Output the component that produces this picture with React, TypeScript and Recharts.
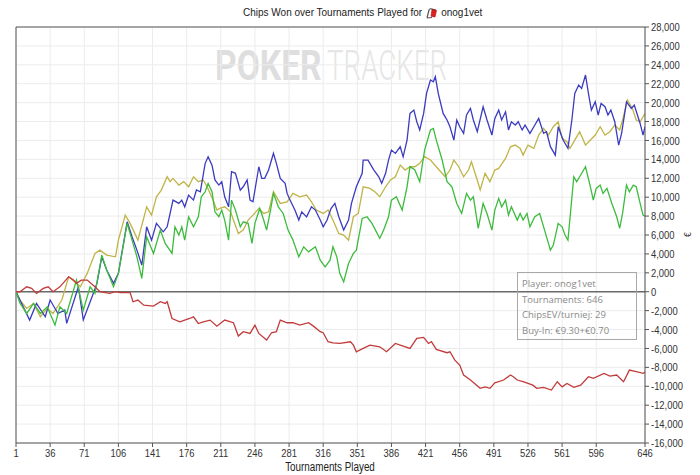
import React from 'react';
import { LineChart, Line, XAxis, YAxis, CartesianGrid, ReferenceLine } from 'recharts';

type P = [number, number];

const X_TICKS = [1, 36, 71, 106, 141, 176, 211, 246, 281, 316, 351, 386, 421, 456, 491, 526, 561, 596, 646];
const Y_TICKS = [-16000, -14000, -12000, -10000, -8000, -6000, -4000, -2000, 0, 2000, 4000, 6000, 8000, 10000, 12000, 14000, 16000, 18000, 20000, 22000, 24000, 26000, 28000];

const TITLE = 'Chips Won over Tournaments Played for';
const PLAYER = 'onog1vet';
const X_LABEL = 'Tournaments Played';
const INFO_LINES = ['Player: onog1vet', 'Tournaments: 646', 'ChipsEV/turniej: 29', 'Buy-In: €9.30+€0.70'];

// Chips won (blue)
const BLUE_PTS: P[] = [
  [1, 0], [15, -3000], [22, -1240], [31, -2650], [36, -880], [44, -2300], [51, -1940], [53, -3350], [65, 520], [70, -2990],
  [79, -540], [84, 880], [89, 3690], [94, 2300], [101, 880], [106, 1940], [115, 7400], [120, 5810], [125, 4400], [130, 2810],
  [135, 6870], [140, 5460], [145, 7230], [152, 6340], [156, 6870], [162, 9690], [168, 9340], [171, 9690], [174, 8980], [178, 10220],
  [183, 9690], [186, 10760], [190, 10570], [195, 13580], [198, 14280], [202, 13390], [205, 11820], [209, 11280], [212, 11630], [215, 10040],
  [219, 8980], [222, 12690], [226, 12520], [231, 10750], [234, 11100], [238, 11820], [241, 9700], [244, 9510], [250, 13220], [253, 11990],
  [256, 11990], [260, 12870], [265, 14630], [268, 13580], [272, 11990], [277, 11460], [279, 10400], [282, 9700], [287, 8640], [291, 7580],
  [294, 8450], [299, 7920], [304, 8980], [308, 8640], [313, 7580], [316, 6870], [320, 7580], [324, 8800], [328, 9340], [332, 7930],
  [337, 6520], [342, 7580], [345, 9340], [350, 11100], [356, 12520], [357, 13920], [362, 13920], [368, 12870], [373, 12160], [376, 11460],
  [380, 12520], [383, 13920], [386, 14980], [390, 14630], [395, 15330], [398, 14270], [402, 16040], [405, 18860], [409, 19210], [412, 17980],
  [415, 17110], [419, 18860], [422, 20980], [426, 22390], [429, 22210], [431, 22740], [434, 20980], [439, 18860], [443, 18160], [446, 17450],
  [450, 16040], [453, 18160], [456, 17450], [460, 16750], [463, 18690], [467, 19390], [470, 18160], [474, 16930], [480, 19560], [484, 18160],
  [489, 16570], [492, 18330], [496, 19210], [499, 18160], [503, 19030], [506, 17110], [509, 17980], [513, 17630], [516, 17980], [520, 17110],
  [523, 17630], [528, 16750], [532, 17450], [537, 18330], [542, 16750], [545, 16920], [549, 15340], [554, 14450], [557, 17450], [562, 16040],
  [567, 15160], [571, 18160], [574, 20980], [578, 21860], [581, 21510], [585, 22920], [588, 20980], [591, 19210], [595, 20090], [598, 18690],
  [601, 19920], [605, 19570], [608, 18690], [611, 19210], [615, 17980], [619, 15510], [622, 16750], [627, 20090], [632, 19390], [635, 19740],
  [641, 17800], [644, 16570], [646, 17450],
];

// green
const GREEN_PTS: P[] = [
  [1, 0], [5, -1200], [12, -2300], [19, -1240], [26, -2300], [33, -1590], [41, -3530], [46, -1590], [53, -2300], [63, 1230],
  [70, -1940], [77, 520], [82, -180], [89, 3870], [94, 2300], [101, 520], [106, 1940], [115, 7230], [120, 5460], [125, 3690],
  [130, 1410], [135, 5810], [142, 4050], [149, 6520], [154, 5110], [161, 4050], [164, 6870], [168, 5990], [171, 6870], [174, 5460],
  [178, 7930], [183, 6870], [188, 7930], [191, 10040], [195, 10570], [198, 11460], [202, 10570], [205, 8450], [209, 7930], [212, 8640],
  [215, 7580], [219, 5460], [222, 9690], [226, 8640], [231, 6870], [234, 7400], [239, 7230], [243, 5110], [246, 7230], [251, 8810],
  [255, 7580], [258, 6520], [262, 8640], [265, 10400], [270, 8980], [275, 8280], [280, 6520], [285, 5460], [291, 3690], [296, 4750],
  [301, 4220], [308, 4750], [313, 3340], [318, 2630], [323, 3340], [326, 4750], [330, 3690], [333, 1940], [337, 1050], [342, 2990],
  [347, 4050], [350, 4400], [356, 7750], [361, 7930], [366, 7230], [374, 5640], [378, 6520], [383, 7930], [386, 9690], [391, 10040],
  [397, 8640], [402, 11100], [405, 13220], [410, 12870], [415, 11640], [420, 14980], [426, 17110], [429, 17280], [432, 16040], [438, 13930],
  [443, 11640], [448, 11100], [453, 9340], [458, 8280], [463, 10400], [467, 9690], [470, 10040], [475, 6700], [480, 9340], [484, 8280],
  [489, 6520], [492, 8640], [496, 9870], [499, 8980], [503, 9690], [506, 8110], [509, 8980], [515, 7580], [518, 8280], [521, 7580],
  [525, 8280], [528, 6870], [533, 7930], [538, 8280], [544, 6170], [549, 4400], [552, 4930], [557, 7230], [561, 6870], [564, 5990],
  [567, 5460], [573, 12160], [576, 11640], [579, 12160], [585, 13220], [590, 11100], [593, 9690], [596, 10930], [600, 11280], [603, 10400],
  [607, 10930], [612, 9340], [617, 7930], [620, 6700], [623, 8280], [627, 11280], [630, 10570], [634, 11280], [637, 11100], [641, 9340],
  [644, 8110], [646, 8000],
];

// yellow
const YELLOW_PTS: P[] = [
  [1, 0], [5, -880], [12, -1770], [19, -1240], [26, -2650], [33, -1770], [39, -2300], [48, -880], [55, 1580], [59, 1230],
  [67, 520], [74, 1940], [82, 4050], [87, 4400], [94, 3870], [103, 3690], [106, 5460], [113, 8100], [118, 7230], [126, 5460],
  [135, 8980], [140, 8100], [145, 10040], [150, 10750], [156, 12160], [159, 11640], [162, 11990], [168, 11280], [173, 11640], [178, 11100],
  [183, 12160], [188, 11640], [193, 11820], [197, 11100], [200, 10400], [203, 9690], [207, 8640], [210, 8810], [215, 8980], [221, 8450],
  [224, 7580], [229, 6170], [234, 6520], [239, 7580], [244, 8100], [250, 8810], [255, 8280], [260, 8450], [265, 10570], [272, 9340],
  [279, 9510], [285, 10400], [292, 10040], [299, 10220], [304, 9510], [309, 8640], [316, 8280], [321, 8640], [326, 7580], [332, 6170],
  [337, 5990], [342, 5460], [347, 7930], [352, 8280], [357, 11100], [364, 10930], [369, 10570], [374, 10040], [380, 11100], [385, 11820],
  [390, 12160], [395, 13400], [400, 12870], [405, 13220], [410, 13220], [415, 13580], [420, 14280], [426, 13930], [432, 13220], [441, 12160],
  [446, 12870], [450, 13930], [455, 13220], [460, 12160], [465, 12870], [468, 13740], [474, 11820], [477, 10760], [482, 12520], [487, 11640],
  [492, 12870], [496, 13040], [503, 14100], [508, 15330], [513, 15510], [518, 15160], [521, 14450], [526, 15510], [532, 15160], [537, 16570],
  [542, 17280], [547, 16570], [552, 17450], [557, 17980], [561, 16220], [566, 15870], [569, 15160], [574, 16040], [579, 16920], [585, 15510],
  [590, 16040], [595, 16570], [600, 17450], [605, 16570], [610, 16920], [615, 17630], [620, 17110], [623, 18160], [628, 20270], [633, 19390],
  [637, 18160], [641, 17980], [646, 18860],
];

// red
const RED_PTS: P[] = [
  [1, 0], [5, 0], [12, 520], [17, 350], [22, -180], [29, 350], [34, 520], [39, 0], [46, 520], [55, 1580],
  [60, 1230], [63, 880], [68, 1230], [74, 1230], [82, 520], [87, 0], [97, -180], [103, 0], [108, -100], [118, -100],
  [121, -1060], [126, -880], [132, -1420], [142, -1520], [149, -1060], [154, -1240], [156, -1060], [161, -2830], [169, -3180], [174, -3000],
  [179, -2830], [183, -2650], [188, -3360], [193, -3180], [200, -3000], [207, -3640], [215, -3000], [224, -3280], [229, -4690], [234, -4230],
  [241, -4410], [246, -3530], [250, -4410], [258, -5110], [263, -4340], [268, -4230], [272, -3000], [279, -3280], [285, -3280], [292, -3530],
  [301, -3280], [306, -3640], [313, -4230], [316, -4340], [321, -5290], [326, -5400], [333, -5470], [344, -5290], [347, -5650], [350, -6350],
  [357, -6000], [364, -5650], [374, -5830], [381, -6350], [390, -5470], [398, -5760], [405, -6000], [412, -4940], [419, -4830], [424, -5470],
  [427, -5290], [432, -6100], [443, -6450], [446, -6350], [451, -7230], [456, -7760], [460, -8810], [467, -9340], [477, -10220], [482, -10060],
  [487, -10220], [492, -9630], [501, -9340], [508, -8810], [511, -8990], [515, -9340], [521, -9520], [531, -9880], [535, -10220], [542, -10120],
  [550, -10400], [556, -9520], [561, -10060], [566, -9700], [573, -10120], [580, -9880], [588, -8990], [593, -9160], [604, -8640], [610, -8920],
  [617, -8810], [624, -9520], [630, -8290], [637, -8460], [644, -8640], [646, -8500],
];

const toRows = (pts: P[]) => pts.map(([t, v]) => ({ t, v }));

const FONT = "'Liberation Sans', Arial, sans-serif";
const fmt = (v: number) => v.toLocaleString('en-US');

const NarrowTick = (props: any) => {
  const { x, y, payload, textAnchor, isY } = props;
  const label = isY ? fmt(payload.value) : String(payload.value);
  return (
    <g transform={`translate(${x},${y})`}>
      <text
        transform="scale(0.82,1)"
        textAnchor={textAnchor}
        dy={isY ? '0.355em' : '0.71em'}
        fontFamily={FONT}
        fontSize={11.5}
        fill="#333"
      >
        {label}
      </text>
    </g>
  );
};

export default function App() {
  return (
    <div style={{ position: 'absolute', left: 0, top: 0, width: 700, height: 475, background: '#fff', overflow: 'hidden' }}>
      <svg width={700} height={475} style={{ position: 'absolute', left: 0, top: 0 }}>
        <g transform="translate(215,80) scale(0.8,1)">
          <text x={0} y={0} fontFamily="Roboto, sans-serif" fontWeight={700} fontSize={42} fill="#dedede">POKER</text>
        </g>
        <g transform="translate(327,80) scale(0.66,1)">
          <text x={0} y={0} fontFamily="Roboto, sans-serif" fontWeight={300} fontSize={42} fill="#e6e6e6">TRACKER</text>
        </g>
      </svg>
      <div style={{ position: 'absolute', left: 0, top: 0 }}>
        <LineChart width={700} height={475} margin={{ top: 27, right: 5, bottom: 12, left: 16 }}>
          <CartesianGrid stroke="#ececec" />
          <XAxis
            type="number"
            dataKey="t"
            domain={[1, 646]}
            ticks={X_TICKS}
            interval={0}
            allowDataOverflow
            height={20}
            axisLine={{ stroke: '#555' }}
            tickLine={{ stroke: '#555' }}
            tickSize={4}
            tick={<NarrowTick />}
          />
          <YAxis
            type="number"
            orientation="right"
            domain={[-16000, 28000]}
            ticks={Y_TICKS}
            interval={0}
            allowDataOverflow
            width={50}
            axisLine={{ stroke: '#555' }}
            tickLine={{ stroke: '#555' }}
            tickSize={4}
            tick={<NarrowTick isY />}
          />
          <ReferenceLine y={28000} stroke="#555" />
          <ReferenceLine x={1} stroke="#555" />
          <ReferenceLine y={0} stroke="#6a6a6a" strokeWidth={1.5} />
          <Line data={toRows(YELLOW_PTS)} dataKey="v" stroke="#c0b448" strokeWidth={1.3} dot={false} isAnimationActive={false} />
          <Line data={toRows(BLUE_PTS)} dataKey="v" stroke="#3b3bc0" strokeWidth={1.3} dot={false} isAnimationActive={false} />
          <Line data={toRows(GREEN_PTS)} dataKey="v" stroke="#3dbb3d" strokeWidth={1.3} dot={false} isAnimationActive={false} />
          <Line data={toRows(RED_PTS)} dataKey="v" stroke="#c23b3b" strokeWidth={1.3} dot={false} isAnimationActive={false} />
        </LineChart>
      </div>
      <div style={{ position: 'absolute', left: 243, top: 6, whiteSpace: 'nowrap', fontFamily: FONT, fontSize: 10, color: '#222', lineHeight: '14px', display: 'flex', alignItems: 'center' }}>
        <span>{TITLE}</span>
        <svg width={14} height={12} style={{ margin: '0 2px 0 3px' }}>
          <path d="M2 11 L4 3 Q4.5 1.5 6 1.8 L11 3" fill="none" stroke="#555" strokeWidth={1.2} />
          <path d="M7 2.5 L11.5 3.5 L10 10 L6 9.2 Z" fill="#d22" stroke="#a00" strokeWidth={0.6} />
          <path d="M2 11 L7 10.5" stroke="#555" strokeWidth={1} />
        </svg>
        <span>{PLAYER}</span>
      </div>
      <div style={{ position: 'absolute', left: 517, top: 272, width: 120, height: 68, border: '1px solid #a8a8a8', boxSizing: 'border-box', padding: '3px 0 0 4px', fontFamily: "'Open Sans', sans-serif", fontSize: 9.5, color: '#8a8a8a', lineHeight: '15.5px' }}>
        {INFO_LINES.map((s) => (
          <div key={s} style={{ whiteSpace: 'nowrap' }}>{s}</div>
        ))}
      </div>
      <div style={{ position: 'absolute', left: 230, width: 200, top: 460, textAlign: 'center', fontFamily: FONT, fontSize: 12, color: '#222', transform: 'scaleX(0.82)' }}>{X_LABEL}</div>
      <div style={{ position: 'absolute', left: 686, top: 230, fontFamily: "'DejaVu Sans', sans-serif", fontSize: 8, color: '#333', transform: 'rotate(-90deg)' }}>€</div>
    </div>
  );
}
